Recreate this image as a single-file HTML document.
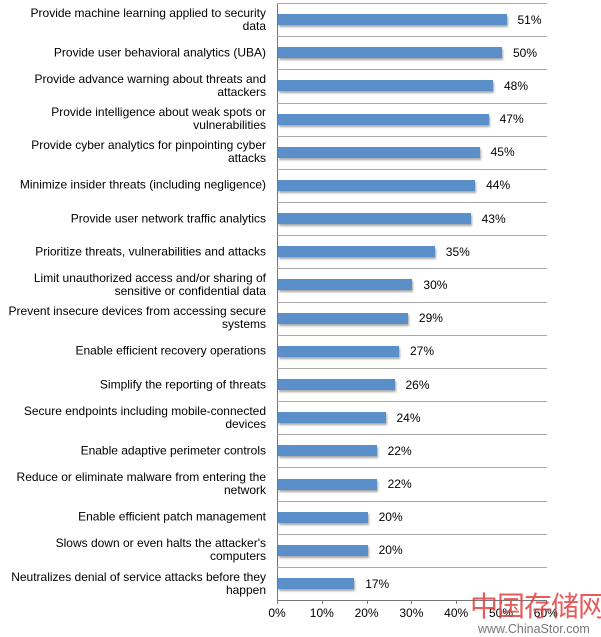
<!DOCTYPE html>
<html><head><meta charset="utf-8"><style>
body{margin:0;background:#fff;width:601px;height:637px;overflow:hidden;position:relative;font-family:"Liberation Sans",Arial,sans-serif}
.l{position:absolute;right:335px;width:275px;text-align:right;font-size:12px;line-height:13px;color:#000;transform:translateY(-50%)}
.b{position:absolute;left:278px;height:11px;background:#5b8fca;box-shadow:1px 2px 2px rgba(0,0,0,.35)}
.v{position:absolute;font-size:12px;color:#000;transform:translateY(-50%)}
.g{position:absolute;left:277px;width:270px;height:1px;background:#a8a8a8}
.t{position:absolute;top:606px;font-size:12px;transform:translateX(-50%)}
</style></head><body>
<div style="position:absolute;left:277px;top:3px;width:1px;height:598px;background:#777"></div>
<div style="position:absolute;left:277px;top:600px;width:270px;height:1px;background:#777"></div>
<div id="c"></div>
<div style="position:absolute;left:470px;top:589px;white-space:nowrap;font-family:'Noto Sans CJK SC',sans-serif;font-size:28px;line-height:32px;color:#e04040;opacity:.85;letter-spacing:-1px">中国存储网</div>
<div style="position:absolute;left:478px;top:622px;white-space:nowrap;font-size:12.5px;color:#777">www.ChinaStor.com</div>
<script>
var d=[["Provide machine learning applied to security<br>data",51],["Provide user behavioral analytics (UBA)",50],["Provide advance warning about threats and<br>attackers",48],["Provide intelligence about weak spots or<br>vulnerabilities",47],["Provide cyber analytics for pinpointing cyber<br>attacks",45],["Minimize insider threats (including negligence)",44],["Provide user network traffic analytics",43],["Prioritize threats, vulnerabilities and attacks",35],["Limit unauthorized access and/or sharing of<br>sensitive or confidential data",30],["Prevent insecure devices from accessing secure<br>systems",29],["Enable efficient recovery operations",27],["Simplify the reporting of threats",26],["Secure endpoints including mobile-connected<br>devices",24],["Enable adaptive perimeter controls",22],["Reduce or eliminate malware from entering the<br>network",22],["Enable efficient patch management",20],["Slows down or even halts the attacker's<br>computers",20],["Neutralizes denial of service attacks before they<br>happen",17]];
var h="",s=33.17,t=3;
for(var i=0;i<18;i++){var cy=t+s*i+s/2,w=d[i][1]*4.48;
h+='<div class="g" style="top:'+(t+s*i).toFixed(1)+'px"></div>';
h+='<div class="l" style="top:'+cy.toFixed(1)+'px">'+d[i][0]+'</div>';
h+='<div class="b" style="top:'+(cy-5.5).toFixed(1)+'px;width:'+w.toFixed(1)+'px"></div>';
h+='<div class="v" style="left:'+(277+w+12).toFixed(1)+'px;top:'+cy.toFixed(1)+'px">'+d[i][1]+'%</div>';}
for(var k=0;k<=6;k++){h+='<div class="t" style="left:'+(277+k*44.8)+'px">'+(k*10)+'%</div>';
h+='<div style="position:absolute;left:'+(277+k*44.8)+'px;top:600px;width:1px;height:4px;background:#777"></div>';}
document.getElementById("c").innerHTML=h;
</script>
</body></html>
